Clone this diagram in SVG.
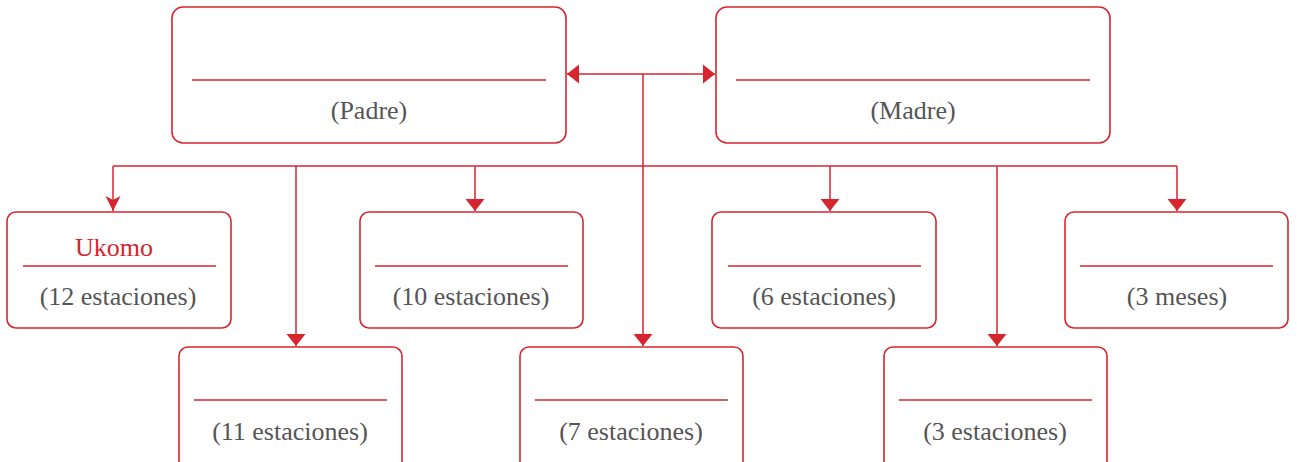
<svg xmlns="http://www.w3.org/2000/svg" width="1297" height="462" viewBox="0 0 1297 462">
<style>
.box{fill:#fff;stroke:#d7252f;stroke-width:1.6}
.ln{stroke:#d7252f;stroke-width:1.5;fill:none}
.t{font-size:26px;fill:#555;text-anchor:middle}
.r{fill:#d7252f}
</style>
<defs>
<marker id="ah" markerWidth="12" markerHeight="20" refX="12" refY="10" orient="auto" markerUnits="userSpaceOnUse">
<path d="M0,0.5 L12,10 L0,19.5 Z" fill="#d7252f"/>
</marker>
<marker id="av" markerWidth="16" markerHeight="16" refX="15" refY="8" orient="auto" markerUnits="userSpaceOnUse">
<path d="M0,0.5 L15,8 L0,15.5 L4,8 Z" fill="#d7252f"/>
</marker>
</defs>
<g id="connectors">
<line class="ln" x1="604" y1="74" x2="567" y2="74" marker-end="url(#ah)"/>
<line class="ln" x1="604" y1="74" x2="715" y2="74" marker-end="url(#ah)"/>
<line class="ln" x1="643" y1="74" x2="643" y2="346" marker-end="url(#ah)"/>
<line class="ln" x1="113" y1="166" x2="1177" y2="166"/>
<line class="ln" x1="113" y1="166" x2="113" y2="211" marker-end="url(#av)"/>
<line class="ln" x1="296" y1="166" x2="296" y2="346" marker-end="url(#ah)"/>
<line class="ln" x1="475" y1="166" x2="475" y2="211" marker-end="url(#ah)"/>
<line class="ln" x1="830" y1="166" x2="830" y2="211" marker-end="url(#ah)"/>
<line class="ln" x1="997" y1="166" x2="997" y2="346" marker-end="url(#ah)"/>
<line class="ln" x1="1177" y1="166" x2="1177" y2="211" marker-end="url(#ah)"/>
</g>
<g font-family="Liberation Serif, DejaVu Serif, serif">
<g id="padre">
<rect class="box" x="172" y="7" width="394" height="136" rx="11"/>
<line class="ln" x1="192" y1="80" x2="546" y2="80"/>
<text class="t" x="369" y="119">(Padre)</text>
</g>
<g id="madre">
<rect class="box" x="716" y="7" width="394" height="136" rx="11"/>
<line class="ln" x1="736" y1="80" x2="1090" y2="80"/>
<text class="t" x="913" y="119">(Madre)</text>
</g>
<g id="ukomo">
<rect class="box" x="7" y="212" width="224" height="116" rx="9"/>
<text class="t r" x="114" y="256">Ukomo</text>
<line class="ln" x1="23" y1="266" x2="216" y2="266"/>
<text class="t" x="118" y="305">(12 estaciones)</text>
</g>
<g id="hijo11">
<rect class="box" x="179" y="347" width="223" height="130" rx="9"/>
<line class="ln" x1="194" y1="400" x2="387" y2="400"/>
<text class="t" x="290" y="440">(11 estaciones)</text>
</g>
<g id="hijo10">
<rect class="box" x="360" y="212" width="223" height="116" rx="9"/>
<line class="ln" x1="375" y1="266" x2="568" y2="266"/>
<text class="t" x="471" y="305">(10 estaciones)</text>
</g>
<g id="hijo7">
<rect class="box" x="520" y="347" width="223" height="130" rx="9"/>
<line class="ln" x1="535" y1="400" x2="728" y2="400"/>
<text class="t" x="631" y="440">(7 estaciones)</text>
</g>
<g id="hijo6">
<rect class="box" x="712" y="212" width="224" height="116" rx="9"/>
<line class="ln" x1="728" y1="266" x2="921" y2="266"/>
<text class="t" x="824" y="305">(6 estaciones)</text>
</g>
<g id="hijo3e">
<rect class="box" x="884" y="347" width="223" height="130" rx="9"/>
<line class="ln" x1="899" y1="400" x2="1092" y2="400"/>
<text class="t" x="995" y="440">(3 estaciones)</text>
</g>
<g id="hijo3m">
<rect class="box" x="1065" y="212" width="223" height="116" rx="9"/>
<line class="ln" x1="1080" y1="266" x2="1273" y2="266"/>
<text class="t" x="1177" y="305">(3 meses)</text>
</g>
</g>
</svg>
